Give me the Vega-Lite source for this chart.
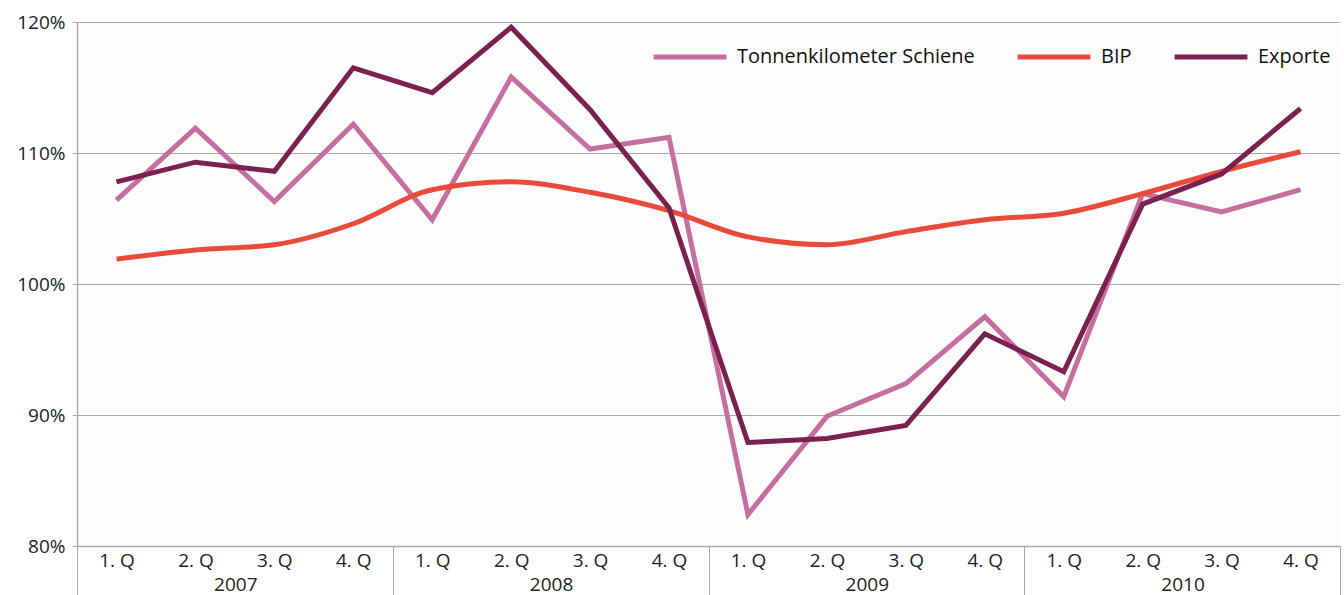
{
  "$schema": "https://vega.github.io/schema/vega-lite/v6.json",
  "width": 1263,
  "height": 524,
  "autosize": {"type": "none"},
  "padding": {"left": 77, "top": 22, "right": 4, "bottom": 49},
  "background": "white",
  "config": {
    "font": "Open Sans",
    "view": {"stroke": null, "fill": "#fcfcfc"}
  },
  "data": {
    "values": [
      {"period": "2007 1. Q", "series": "Tonnenkilometer Schiene", "value": 106.4},
      {"period": "2007 2. Q", "series": "Tonnenkilometer Schiene", "value": 111.9},
      {"period": "2007 3. Q", "series": "Tonnenkilometer Schiene", "value": 106.3},
      {"period": "2007 4. Q", "series": "Tonnenkilometer Schiene", "value": 112.2},
      {"period": "2008 1. Q", "series": "Tonnenkilometer Schiene", "value": 104.9},
      {"period": "2008 2. Q", "series": "Tonnenkilometer Schiene", "value": 115.8},
      {"period": "2008 3. Q", "series": "Tonnenkilometer Schiene", "value": 110.3},
      {"period": "2008 4. Q", "series": "Tonnenkilometer Schiene", "value": 111.2},
      {"period": "2009 1. Q", "series": "Tonnenkilometer Schiene", "value": 82.4},
      {"period": "2009 2. Q", "series": "Tonnenkilometer Schiene", "value": 89.9},
      {"period": "2009 3. Q", "series": "Tonnenkilometer Schiene", "value": 92.4},
      {"period": "2009 4. Q", "series": "Tonnenkilometer Schiene", "value": 97.5},
      {"period": "2010 1. Q", "series": "Tonnenkilometer Schiene", "value": 91.4},
      {"period": "2010 2. Q", "series": "Tonnenkilometer Schiene", "value": 106.9},
      {"period": "2010 3. Q", "series": "Tonnenkilometer Schiene", "value": 105.5},
      {"period": "2010 4. Q", "series": "Tonnenkilometer Schiene", "value": 107.2},
      {"period": "2007 1. Q", "series": "BIP", "value": 101.9},
      {"period": "2007 2. Q", "series": "BIP", "value": 102.6},
      {"period": "2007 3. Q", "series": "BIP", "value": 103.0},
      {"period": "2007 4. Q", "series": "BIP", "value": 104.6},
      {"period": "2008 1. Q", "series": "BIP", "value": 107.2},
      {"period": "2008 2. Q", "series": "BIP", "value": 107.8},
      {"period": "2008 3. Q", "series": "BIP", "value": 107.0},
      {"period": "2008 4. Q", "series": "BIP", "value": 105.6},
      {"period": "2009 1. Q", "series": "BIP", "value": 103.6},
      {"period": "2009 2. Q", "series": "BIP", "value": 103.0},
      {"period": "2009 3. Q", "series": "BIP", "value": 104.0},
      {"period": "2009 4. Q", "series": "BIP", "value": 104.9},
      {"period": "2010 1. Q", "series": "BIP", "value": 105.4},
      {"period": "2010 2. Q", "series": "BIP", "value": 106.9},
      {"period": "2010 3. Q", "series": "BIP", "value": 108.6},
      {"period": "2010 4. Q", "series": "BIP", "value": 110.1},
      {"period": "2007 1. Q", "series": "Exporte", "value": 107.8},
      {"period": "2007 2. Q", "series": "Exporte", "value": 109.3},
      {"period": "2007 3. Q", "series": "Exporte", "value": 108.6},
      {"period": "2007 4. Q", "series": "Exporte", "value": 116.5},
      {"period": "2008 1. Q", "series": "Exporte", "value": 114.6},
      {"period": "2008 2. Q", "series": "Exporte", "value": 119.6},
      {"period": "2008 3. Q", "series": "Exporte", "value": 113.3},
      {"period": "2008 4. Q", "series": "Exporte", "value": 105.8},
      {"period": "2009 1. Q", "series": "Exporte", "value": 87.9},
      {"period": "2009 2. Q", "series": "Exporte", "value": 88.2},
      {"period": "2009 3. Q", "series": "Exporte", "value": 89.2},
      {"period": "2009 4. Q", "series": "Exporte", "value": 96.2},
      {"period": "2010 1. Q", "series": "Exporte", "value": 93.3},
      {"period": "2010 2. Q", "series": "Exporte", "value": 106.1},
      {"period": "2010 3. Q", "series": "Exporte", "value": 108.4},
      {"period": "2010 4. Q", "series": "Exporte", "value": 113.4}
    ]
  },
  "encoding": {
    "y": {
      "field": "value",
      "type": "quantitative",
      "scale": {"domain": [80, 120], "nice": false, "zero": false},
      "axis": {
        "title": null,
        "values": [80, 90, 100, 110, 120],
        "labelExpr": "datum.value + '%'",
        "labelFontSize": 19,
        "labelColor": "#222222",
        "labelPadding": 7,
        "tickSize": 5,
        "tickColor": "#aaaaaa",
        "domainColor": "#aaaaaa",
        "domainWidth": 1.5,
        "gridColor": "#aaaaaa",
        "gridWidth": 1.2
      }
    },
    "color": {
      "field": "series",
      "type": "nominal",
      "scale": {
        "domain": ["Tonnenkilometer Schiene", "BIP", "Exporte"],
        "range": ["#c46fa0", "#ea4a3a", "#7b2150"]
      },
      "legend": {
        "title": null,
        "orient": "none",
        "legendX": 574,
        "legendY": -4,
        "direction": "horizontal",
        "symbolType": "stroke",
        "symbolSize": 5300,
        "symbolStrokeWidth": 5,
        "labelFontSize": 20,
        "labelColor": "#111111",
        "labelLimit": 400,
        "columnPadding": 32,
        "labelOffset": 8,
        "fillColor": null
      }
    }
  },
  "layer": [
    {
      "transform": [{"filter": "datum.series === 'Tonnenkilometer Schiene'"}],
      "mark": {"type": "line", "strokeWidth": 5},
      "encoding": {
        "x": {
          "field": "period",
          "type": "ordinal",
          "sort": null,
          "scale": {"paddingInner": 0, "paddingOuter": 0},
          "axis": {
            "title": null,
            "labelExpr": "substring(datum.value, 5)",
            "labelFontSize": 19,
            "labelColor": "#222222",
            "labelAngle": 0,
            "labelPadding": 5,
            "ticks": false,
            "domainColor": "#aaaaaa",
            "domainWidth": 1.5
          }
        }
      }
    },
    {
      "transform": [{"filter": "datum.series === 'BIP'"}],
      "mark": {"type": "line", "strokeWidth": 5, "interpolate": "monotone"},
      "encoding": {
        "x": {
          "field": "period",
          "type": "ordinal",
          "sort": null,
          "axis": {
            "title": null,
            "orient": "bottom",
            "values": ["2007 4. Q", "2008 4. Q", "2009 4. Q", "2010 4. Q"],
            "labelExpr": "substring(datum.value, 0, 4)",
            "labelFontSize": 19,
            "labelColor": "#222222",
            "labelAngle": 0,
            "tickOffset": 39.5,
            "labelOffset": -157.5,
            "tickSize": 49,
            "tickColor": "#aaaaaa",
            "labelPadding": -20,
            "domain": false,
            "grid": false
          }
        }
      }
    },
    {
      "transform": [{"filter": "datum.series === 'Exporte'"}],
      "mark": {"type": "line", "strokeWidth": 5},
      "encoding": {
        "x": {
          "field": "period",
          "type": "ordinal",
          "sort": null,
          "axis": {
            "title": null,
            "orient": "bottom",
            "values": ["2007 1. Q"],
            "tickOffset": -39.5,
            "labels": false,
            "tickSize": 49,
            "tickColor": "#aaaaaa",
            "domain": false,
            "grid": false
          }
        }
      }
    }
  ],
  "resolve": {"axis": {"x": "independent"}}
}
